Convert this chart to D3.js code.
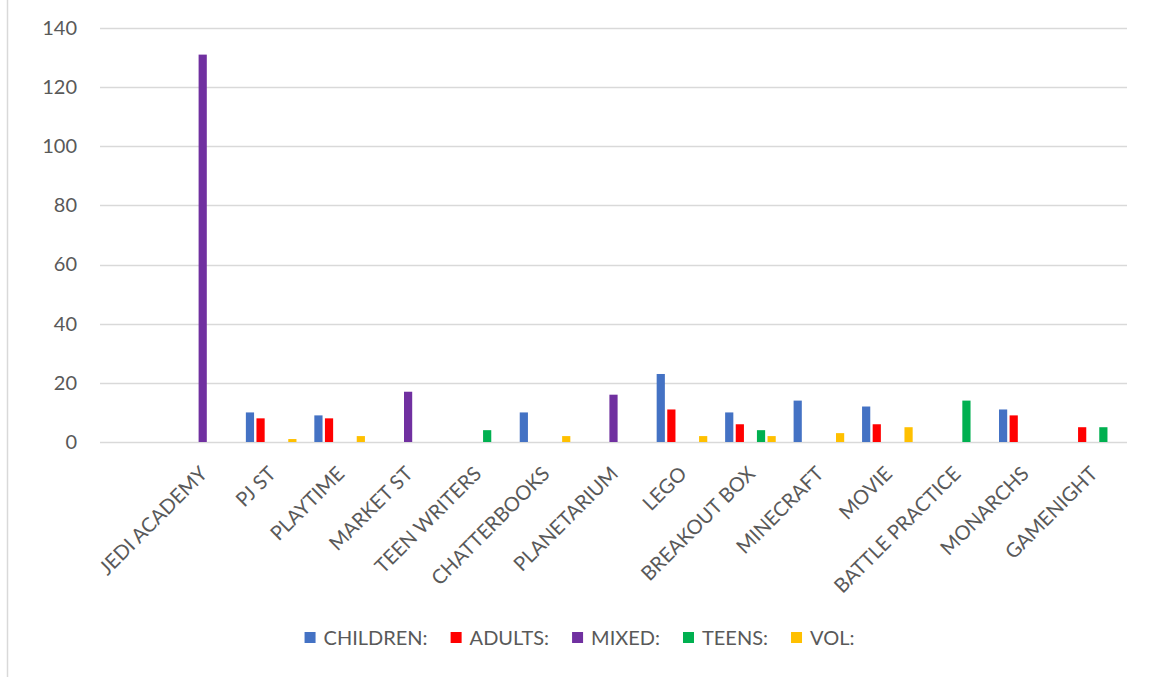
<!DOCTYPE html>
<html><head><meta charset="utf-8">
<script src="https://cdn.jsdelivr.net/npm/d3@7"></script>
<style>
html,body{margin:0;padding:0;background:#fff;}
svg{display:block;font-family:Lato,"Open Sans",sans-serif;}
</style></head>
<body>
<svg id="chart" width="1155" height="677"></svg>
<script>
const categories = ["JEDI ACADEMY","PJ ST","PLAYTIME","MARKET ST","TEEN WRITERS","CHATTERBOOKS","PLANETARIUM","LEGO","BREAKOUT BOX","MINECRAFT","MOVIE","BATTLE PRACTICE","MONARCHS","GAMENIGHT"];
const seriesNames = ["CHILDREN:","ADULTS:","MIXED:","TEENS:","VOL:"];
const seriesColors = ["#4472C4","#FF0000","#7030A0","#00B050","#FFC000"];
const children = [null,10,9,null,null,10,null,23,10,14,12,null,11,null];
const adults   = [null,8,8,null,null,null,null,11,6,null,6,null,9,5];
const mixed    = [131,null,null,17,null,null,16,null,null,null,null,null,null,null];
const teens    = [null,null,null,null,4,null,null,null,4,null,null,14,null,5];
const vol      = [null,1,2,null,null,2,null,2,2,3,5,null,null,null];
const yTicks = [0,20,40,60,80,100,120,140];

const seriesValues = [children, adults, mixed, teens, vol];
const svg = d3.select("#chart");
const textColor = "#595959";

// chart border (left edge visible)
svg.append("line").attr("x1",7.5).attr("x2",7.5).attr("y1",0).attr("y2",677)
  .attr("stroke","#D9D9D9").attr("stroke-width",1.5);

const plotL = 100, plotR = 1127, plotT = 28, plotB = 442;
// leading blank category as in the source chart
const x = d3.scaleBand().domain(["__blank__", ...categories]).range([plotL, plotR]).paddingInner(0).paddingOuter(0);
const y = d3.scaleLinear().domain([0,140]).range([plotB, plotT]);

const step = 10.6, barW = 8.2;
const xs = d3.scaleBand().domain(seriesNames).range([-step*2.5, step*2.5]);

// gridlines
svg.append("g").selectAll("line").data(yTicks).join("line")
  .attr("x1",plotL).attr("x2",plotR)
  .attr("y1",d=>Math.round(y(d))+0.5).attr("y2",d=>Math.round(y(d))+0.5)
  .attr("stroke","#D9D9D9").attr("stroke-width",1.3);

// y axis labels
const yAxis = d3.axisLeft(y).tickValues(yTicks).tickSize(0).tickPadding(0);
const yg = svg.append("g").attr("transform",`translate(${plotL-23},0)`).call(yAxis);
yg.select(".domain").remove();
yg.selectAll("text").attr("fill",textColor).style("font-size","20px").style("font-family","Lato");

// bars
seriesNames.forEach((s,si)=>{
  const vals = seriesValues[si];
  svg.append("g").selectAll("rect")
    .data(categories.map((c,i)=>({c, v: vals[i]})).filter(d=>d.v!=null))
    .join("rect")
    .attr("x", d => x(d.c) + x.bandwidth()/2 + xs(s) + (step-barW)/2)
    .attr("width", barW)
    .attr("y", d => y(d.v))
    .attr("height", d => y(0) - y(d.v))
    .attr("fill", seriesColors[si]);
});

// category labels
const xAxis = d3.axisBottom(x).tickValues(categories).tickSize(0).tickPadding(0);
const xg = svg.append("g").attr("transform",`translate(0,${plotB})`).call(xAxis);
xg.select(".domain").remove();
xg.selectAll("text")
  .attr("fill",textColor).style("font-size","20px").style("font-family","Lato")
  .attr("text-anchor","end")
  .attr("dy",null).attr("y",0)
  .attr("transform","translate(6,33) rotate(-45)");

// legend
const legend = svg.append("g");
const items = legend.selectAll("g").data(seriesNames).join("g");
items.append("rect").attr("width",11).attr("height",11).attr("y",-6)
  .attr("fill",(d,i)=>seriesColors[i]);
items.append("text").attr("x",19).attr("y",0).attr("dy","0.35em")
  .attr("fill",textColor).style("font-size","20px").style("font-family","Lato")
  .text(d=>d);
const widths = [];
items.each(function(){ widths.push(this.getBBox().width); });
const gap = 23;
const total = d3.sum(widths) + gap*(widths.length-1);
let start = 579.5 - total/2;
items.attr("transform",(d,i)=>{ const t = `translate(${start},638)`; start += widths[i]+gap; return t; });
</script>
</body></html>
